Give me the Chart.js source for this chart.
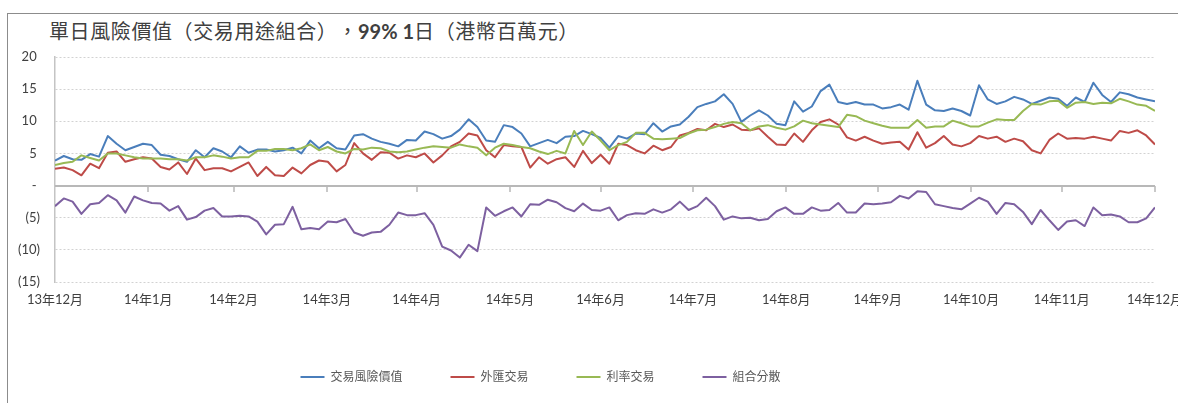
<!DOCTYPE html>
<html>
<head>
<meta charset="utf-8">
<script src="https://cdn.jsdelivr.net/npm/chart.js@4.4.0/dist/chart.umd.min.js"></script>
<style>
  html, body { margin: 0; padding: 0; background: #fff; overflow: hidden; }
  #wrap { position: relative; width: 1178px; height: 403px; overflow: hidden; }
  #frame { position: absolute; left: 7px; top: 13px; width: 1300px; height: 500px; border: 1px solid #8c8c8c; }
  #title { position: absolute; left: 49px; top: 19px; line-height: 24px; font-size: 20px; color: #404040;
           font-family: 'Noto Sans CJK TC', sans-serif; white-space: nowrap; letter-spacing: 0.6px;
           text-spacing-trim: space-all; font-feature-settings: "fwid"; }
  #title b { font-family: Lato, sans-serif; letter-spacing: 0; }
  #c { position: absolute; left: 0; top: 0; }
</style>
</head>
<body>
<div id="wrap">
  <div id="frame"></div>
  <div id="title">單日風險價值（交易用途組合），<b>99% 1</b>日（港幣百萬元）</div>
  <canvas id="c" width="1240" height="403"></canvas>
</div>
<script>
'use strict';

// series, sampled left to right across Dec 2013 - Dec 2014 (HK$ mn)
var tradingVar = [
  3.9, 4.6, 4.1, 4.0, 4.9, 4.5, 7.7, 6.5, 5.5, 6.0,
  6.5, 6.3, 4.8, 4.6, 4.1, 3.7, 5.5, 4.4, 5.8, 5.3,
  4.4, 6.1, 5.1, 5.6, 5.6, 5.3, 5.5, 5.9, 5.0, 7.0,
  5.8, 6.8, 5.8, 5.6, 7.8, 8.0, 7.3, 6.8, 6.5, 6.1,
  7.1, 7.0, 8.4, 8.0, 7.3, 7.7, 8.7, 10.3, 9.1, 7.0,
  6.8, 9.4, 9.1, 8.1, 6.1, 6.6, 7.1, 6.6, 7.6, 7.7,
  8.5, 8.0, 7.4, 5.9, 7.7, 7.3, 8.1, 8.0, 9.7, 8.4,
  9.2, 9.5, 10.7, 12.2, 12.7, 13.1, 14.2, 12.7, 9.9, 10.9,
  11.7, 10.9, 9.6, 9.4, 13.1, 11.5, 12.3, 14.7, 15.7, 13.0,
  12.7, 13.0, 12.6, 12.6, 12.0, 12.2, 12.6, 11.8, 16.3, 12.6,
  11.7, 11.6, 12.0, 11.6, 10.9, 15.6, 13.4, 12.7, 13.1, 13.8,
  13.4, 12.7, 13.2, 13.7, 13.5, 12.4, 13.7, 13.0, 16.0, 14.1,
  13.0, 14.5, 14.2, 13.7, 13.4, 13.1
];
var fxTrading = [
  2.6, 2.8, 2.4, 1.6, 3.4, 2.7, 5.1, 5.3, 3.7, 4.1,
  4.4, 4.2, 2.9, 2.5, 3.6, 1.8, 4.2, 2.4, 2.7, 2.7,
  2.2, 2.9, 3.6, 1.5, 2.9, 1.6, 1.5, 2.8, 1.9, 3.2,
  3.9, 3.7, 2.2, 3.2, 6.6, 5.0, 4.0, 5.2, 5.1, 4.2,
  4.7, 4.4, 5.0, 3.6, 4.7, 6.1, 6.8, 8.1, 7.8, 5.5,
  4.4, 6.3, 6.1, 6.0, 2.8, 4.4, 3.4, 4.1, 4.4, 2.9,
  5.4, 3.5, 4.8, 3.4, 6.5, 6.3, 5.5, 5.0, 6.2, 5.5,
  6.0, 7.8, 8.2, 8.8, 8.6, 9.6, 9.1, 9.5, 8.7, 8.6,
  8.9, 7.6, 6.4, 6.3, 8.1, 6.8, 8.6, 9.9, 10.3, 9.5,
  7.5, 7.0, 7.6, 7.0, 6.5, 6.7, 6.8, 5.6, 8.3, 5.9,
  6.6, 7.7, 6.4, 6.1, 6.6, 7.7, 7.3, 7.6, 6.8, 7.3,
  6.9, 5.5, 5.0, 7.1, 8.1, 7.3, 7.4, 7.3, 7.6, 7.3,
  7.0, 8.5, 8.2, 8.6, 7.8, 6.4
];
var irTrading = [
  3.2, 3.5, 3.7, 4.7, 4.3, 3.9, 5.0, 5.0, 4.7, 4.4,
  4.2, 4.2, 4.2, 4.1, 4.1, 3.9, 4.4, 4.4, 4.7, 4.5,
  4.2, 4.4, 4.4, 5.4, 5.4, 5.7, 5.7, 5.5, 5.8, 6.4,
  5.5, 6.0, 5.3, 5.0, 5.7, 5.6, 5.9, 5.8, 5.3, 5.2,
  5.3, 5.6, 5.9, 6.1, 6.0, 5.9, 6.4, 6.1, 5.9, 4.7,
  5.9, 6.5, 6.3, 6.0, 5.8, 5.3, 4.9, 5.4, 5.0, 8.5,
  6.3, 8.4, 7.0, 5.5, 6.3, 6.8, 8.2, 8.2, 7.3, 7.2,
  7.3, 7.4, 8.1, 8.6, 8.7, 9.1, 9.6, 9.9, 9.7, 8.6,
  9.2, 9.4, 9.0, 8.7, 9.2, 10.1, 9.7, 9.5, 9.3, 9.1,
  11.0, 10.8, 10.1, 9.7, 9.3, 9.0, 9.0, 9.0, 10.2, 9.0,
  9.2, 9.2, 10.1, 9.7, 9.2, 9.2, 9.8, 10.3, 10.2, 10.2,
  11.6, 12.7, 12.6, 13.1, 13.2, 12.1, 12.9, 13.0, 12.7, 12.9,
  12.8, 13.5, 13.1, 12.6, 12.4, 11.6
];
var diversification = [
  -3.2, -2.0, -2.5, -4.4, -2.9, -2.7, -1.5, -2.3, -4.2, -1.7,
  -2.3, -2.7, -2.8, -3.9, -3.2, -5.3, -4.9, -3.9, -3.5, -4.8,
  -4.8, -4.7, -4.8, -5.6, -7.6, -6.1, -6.0, -3.3, -6.8, -6.6,
  -6.8, -5.6, -5.7, -5.2, -7.3, -7.8, -7.3, -7.2, -6.1, -4.2,
  -4.6, -4.6, -4.3, -6.1, -9.5, -10.1, -11.2, -9.2, -10.2, -3.4,
  -4.7, -4.0, -3.4, -4.8, -2.9, -3.0, -2.2, -2.6, -3.5, -4.0,
  -2.8, -3.8, -3.9, -3.4, -5.4, -4.6, -4.3, -4.4, -3.7, -4.2,
  -3.7, -2.5, -3.8, -3.2, -1.9, -3.2, -5.3, -4.8, -5.1, -5.0,
  -5.4, -5.2, -4.0, -3.4, -4.4, -4.4, -3.4, -3.9, -3.8, -2.7,
  -4.2, -4.2, -2.8, -2.9, -2.8, -2.6, -1.6, -2.0, -0.9, -1.0,
  -2.9, -3.2, -3.5, -3.7, -2.8, -1.9, -2.5, -4.4, -2.7, -2.9,
  -4.1, -6.0, -3.8, -5.4, -6.9, -5.6, -5.4, -6.3, -3.4, -4.6,
  -4.5, -4.8, -5.7, -5.7, -5.1, -3.4
];

var seriesNames = ['交易風險價值', '外匯交易', '利率交易', '組合分散'];

// month boundaries, in sample positions
var monthPos = [0, 10.6, 20.3, 30.9, 41.1, 51.7, 62.0, 72.5, 83.1, 93.5, 104.1, 114.4, 125];
var monthLabels = ['13年12月', '14年1月', '14年2月', '14年3月', '14年4月', '14年5月', '14年6月',
                   '14年7月', '14年8月', '14年9月', '14年10月', '14年11月', '14年12月'];

var yTickValues = [-15, -10, -5, 0, 5, 10, 15, 20];
var yTickLabels = ['(15)', '(10)', '(5)', '- ', '5 ', '10 ', '15 ', '20 '];

var FONT = "Lato, 'Noto Sans CJK TC', sans-serif";

function toPoints(values) {
    return values.map(function(v, i) { return { x: i, y: v }; });
}

function lineSet(label, values, color, order) {
    return {
        label: label,
        data: toPoints(values),
        borderColor: color,
        backgroundColor: color,
        borderWidth: 2,
        borderJoinStyle: 'round',
        pointRadius: 0,
        tension: 0,
        fill: false,
        order: order
    };
}

// zero line with small month tick marks, like the category axis crossing at 0
var zeroAxis = {
    id: 'zeroAxis',
    beforeDatasetsDraw: function(chart) {
        var ctx = chart.ctx, area = chart.chartArea;
        var x = chart.scales.x, y = chart.scales.y;
        var y0 = Math.round(y.getPixelForValue(0));
        ctx.save();
        ctx.strokeStyle = '#b8b8b8';
        ctx.lineWidth = 2;
        ctx.beginPath();
        ctx.moveTo(area.left, y0);
        ctx.lineTo(area.right, y0);
        ctx.stroke();
        ctx.lineWidth = 1.5;
        ctx.beginPath();
        monthPos.forEach(function(v) {
            if (v === 0) return;
            var px = Math.round(x.getPixelForValue(v));
            ctx.moveTo(px, y0);
            ctx.lineTo(px, y0 + 6);
        });
        ctx.stroke();
        ctx.restore();
    }
};

// the legend sits left of the plot centre in the original
var legendShift = {
    id: 'legendShift',
    afterLayout: function(chart) {
        chart.legend.left -= 37;
        chart.legend.right -= 37;
    }
};

new Chart(document.getElementById('c').getContext('2d'), {
    type: 'line',
    data: {
        datasets: [
            lineSet(seriesNames[0], tradingVar, '#4A7EBB', 4),
            lineSet(seriesNames[1], fxTrading, '#BE4B48', 3),
            lineSet(seriesNames[2], irTrading, '#98B954', 2),
            lineSet(seriesNames[3], diversification, '#7D60A0', 1)
        ]
    },
    plugins: [zeroAxis, legendShift],
    options: {
        responsive: false,
        animation: false,
        devicePixelRatio: 1,
        layout: { padding: { left: 0, right: 85, top: 57, bottom: 10 } },
        plugins: {
            title: { display: false },
            tooltip: { enabled: false },
            legend: {
                position: 'bottom',
                labels: {
                    usePointStyle: true,
                    pointStyle: 'line',
                    pointStyleWidth: 24,
                    padding: 48,
                    color: '#595959',
                    font: { size: 12, family: FONT },
                    sort: function(a, b) { return a.datasetIndex - b.datasetIndex; }
                }
            }
        },
        scales: {
            x: {
                type: 'linear',
                min: 0,
                max: 125,
                grid: { display: false, drawTicks: false },
                border: { display: false },
                afterBuildTicks: function(scale) {
                    scale.ticks = monthPos.map(function(v) { return { value: v }; });
                },
                afterFit: function(scale) { scale.height = 41; },
                ticks: {
                    autoSkip: false,
                    maxRotation: 0,
                    padding: 10,
                    color: '#404040',
                    font: { size: 13, family: FONT },
                    callback: function(value, index) { return monthLabels[index]; }
                }
            },
            y: {
                min: -15,
                max: 20,
                afterBuildTicks: function(scale) {
                    scale.ticks = yTickValues.map(function(v) { return { value: v }; });
                },
                afterFit: function(scale) { scale.width = 55; },
                grid: {
                    drawTicks: false,
                    lineWidth: 1,
                    color: function(c) {
                        return c.tick && c.tick.value === 0 ? 'rgba(0,0,0,0)' : '#d2d2d2';
                    }
                },
                border: { display: true, color: '#c4c4c4', width: 1.5, dash: [2, 2] },
                ticks: {
                    padding: 15,
                    color: '#404040',
                    font: { size: 13, family: FONT },
                    callback: function(value, index) { return yTickLabels[index]; }
                }
            }
        }
    }
});
</script>
</body>
</html>
